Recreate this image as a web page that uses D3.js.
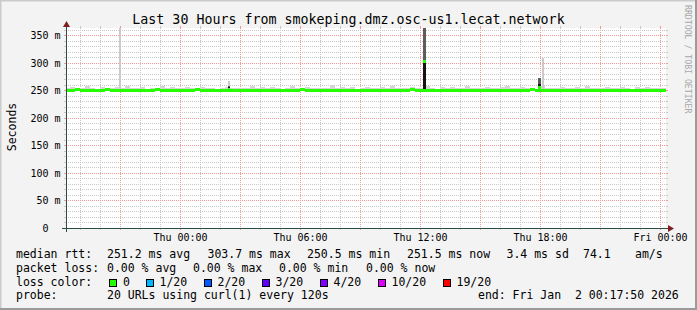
<!DOCTYPE html>
<html>
<head>
<meta charset="utf-8">
<script src="https://cdn.jsdelivr.net/npm/d3@7"></script>
<style>
  body { margin: 0; background: #f3f3f3; }
  svg { display: block; font-family: "DejaVu Sans Mono", monospace; }
  text { white-space: pre; }
</style>
</head>
<body>
<svg id="chart" width="697" height="310"></svg>
<script>

/* DATA */
// median rtt per 15 minute step, starting Wed 18:15 (ms)
const medianMs = [
  251.4, 251.0, 251.8, 251.2, 250.9, 251.6, 251.3, 251.1, 252.0, 251.2,
  251.0, 251.5, 251.3, 250.8, 251.7, 251.2, 251.0, 251.4, 251.9, 251.1,
  251.2, 250.9, 251.3, 251.6, 251.0, 251.2, 251.8, 251.1, 250.7, 251.3,
  251.5, 251.0, 251.2, 251.4, 250.9, 251.1, 251.6, 251.3, 251.0, 251.2,
  251.7, 251.1, 250.8, 251.3, 251.5, 251.0, 251.2, 251.9, 251.1, 250.9,
  251.3, 251.2, 251.0, 251.6, 251.4, 250.8, 251.1, 251.3, 251.0, 251.5,
  251.2, 250.9, 251.4, 251.7, 251.1, 251.0, 251.3, 250.6, 251.2, 251.8,
  251.0, 251.1, 251.4, 251.2, 250.9, 251.3, 251.6, 251.0, 251.2, 251.5,
  251.1, 250.8, 251.3, 251.2, 251.0, 251.7, 251.3, 251.1, 250.9, 251.4,
  251.2, 251.0, 251.5, 251.8, 251.1, 250.9, 251.3, 251.2, 251.6, 251.0,
  251.1, 251.4, 250.8, 251.2, 251.3, 251.0, 251.6, 251.1, 251.2, 250.9,
  251.4, 251.2, 251.0, 251.5, 251.1, 250.8, 251.3, 251.2, 251.6, 251.4,
  251.5
];

// slowest ping per step (top of the smoke, ms)
const smokeMaxMs = [
  254.2, 256.8, 253.9, 255.1, 258.3, 254.0, 253.6, 256.2, 254.8, 253.7,
  255.9, 254.3, 257.6, 253.8, 254.9, 256.4, 253.5, 255.0, 254.1, 258.9,
  253.9, 255.6, 254.2, 253.7, 256.1, 254.5, 253.8, 257.2, 254.0, 255.3,
  253.6, 254.7, 256.9, 253.9, 255.2, 254.1, 253.7, 258.1, 254.4, 255.8,
  253.9, 256.5, 254.2, 253.6, 255.4, 257.3, 254.0, 253.8, 256.0, 254.6,
  255.1, 253.7, 254.3, 259.4, 253.9, 255.7, 254.1, 256.3, 253.6, 254.8,
  257.0, 254.2, 253.9, 255.5, 254.0, 258.6, 253.7, 255.0, 254.4, 256.7,
  253.8, 254.9, 257.8, 254.1, 253.6, 255.9, 254.3, 256.1, 253.9, 254.6,
  258.0, 254.2, 255.3, 253.7, 256.8, 254.0, 253.9, 255.6, 257.4, 254.1,
  253.8, 256.2, 254.5, 255.0, 253.6, 257.9, 254.3, 255.4, 253.9, 256.6,
  254.1, 253.7, 255.8, 254.2, 258.4, 253.9, 255.1, 254.0, 256.9, 253.8,
  254.7, 257.1, 254.2, 253.6, 255.5, 254.4, 256.3, 253.9, 255.0, 254.1,
  254.6
];

// short bursts of slow pings
const spikeStart   = ["2025-12-31 20:57", "2026-01-01 02:25", "2026-01-01 12:08", "2026-01-01 17:55", "2026-01-01 18:07"];
const spikeMinutes = [6, 6, 10, 9, 6];
const spikeMinMs   = [250.6, 250.8, 250.5, 250.7, 250.9];
const spikeCoreMs  = [251.2, 256.0, 303.7, 261.0, 251.3];
const spikeDarkMs  = [251.2, 258.0, 380.0, 273.0, 251.3];
const spikeMaxMs   = [380.0, 267.0, 380.0, 273.0, 309.0];
const spikeMedMs   = [251.2, 252.0, 303.7, 257.0, 251.3];

const yTicksMs = [0, 50, 100, 150, 200, 250, 300, 350];

const rttStats  = ["251.2 ms avg", "303.7 ms max", "250.5 ms min", "251.5 ms now", "3.4 ms sd", "74.1", "am/s"];
const lossStats = ["0.00 % avg", "0.00 % max", "0.00 % min", "0.00 % now"];
const lossLabels = ["0", "1/20", "2/20", "3/20", "4/20", "10/20", "19/20"];
const lossColors = ["#26ff00", "#00b8ff", "#0059ff", "#5e00ff", "#7e00ff", "#dd00ff", "#ff0000"];

const titleText = "Last 30 Hours from smokeping.dmz.osc-us1.lecat.network";
const probeText = "20 URLs using curl(1) every 120s";
const endText   = "end: Fri Jan  2 00:17:50 2026";

/* LAYOUT */
const width = 697, height = 310;
const x0 = 66, x1 = 666, yTop = 28, yBot = 228;
const startTime = new Date(2025, 11, 31, 18, 17, 50);
const endTime   = new Date(2026, 0, 2, 0, 17, 50);
const baseStart = new Date(2025, 11, 31, 18, 15, 0);
const stepMin = 15;
const yMaxMs = 363.6;

const parseTime = d3.timeParse("%Y-%m-%d %H:%M");

/* SCALES */
const xScale = d3.scaleTime()
    .domain([startTime, endTime])
    .range([x0, x1]);

const yScale = d3.scaleLinear()
    .domain([0, yMaxMs])
    .range([yBot, yTop]);

const px = v => Math.round(v) + 0.5;

const svg = d3.select("#chart");

// BACKGROUND + FRAME
svg.append("rect").attr("width", width).attr("height", height).attr("fill", "#f3f3f3");
svg.append("path").attr("d", `M0,${height} V0 H${width}`).attr("fill", "none")
    .attr("stroke", "#cbcbcb").attr("stroke-width", 3);
svg.append("path").attr("d", `M0,${height} H${width} V0`).attr("fill", "none")
    .attr("stroke", "#9b9b9b").attr("stroke-width", 4);

svg.append("rect")
    .attr("x", x0).attr("y", yTop)
    .attr("width", x1 - x0).attr("height", yBot - yTop)
    .attr("fill", "#ffffff");

// GRID -------------------------------------
const grid = svg.append("g").attr("shape-rendering", "crispEdges");

function hLine(v, color) {
    const y = px(yScale(v));
    grid.append("line").attr("x1", x0).attr("x2", x1).attr("y1", y).attr("y2", y)
        .attr("stroke", color).attr("stroke-dasharray", "1,1");
    grid.append("line").attr("x1", x0 - 2).attr("x2", x0).attr("y1", y).attr("y2", y).attr("stroke", color);
    grid.append("line").attr("x1", x1).attr("x2", x1 + 2).attr("y1", y).attr("y2", y).attr("stroke", color);
}

function vLine(t, color) {
    const x = px(xScale(t));
    grid.append("line").attr("x1", x).attr("x2", x).attr("y1", yTop).attr("y2", yBot)
        .attr("stroke", color).attr("stroke-dasharray", "1,1");
    grid.append("line").attr("x1", x).attr("x2", x).attr("y1", yBot).attr("y2", yBot + 2).attr("stroke", color);
    grid.append("line").attr("x1", x).attr("x2", x).attr("y1", yTop - 2).attr("y2", yTop).attr("stroke", color);
}

d3.range(10, yMaxMs, 10).filter(v => v % 50 !== 0).forEach(v => hLine(v, "#c8c8c8"));
d3.timeHour.range(startTime, endTime).filter(t => t.getHours() % 3 !== 0).forEach(t => vLine(t, "#c8c8c8"));
yTicksMs.filter(v => v > 0).forEach(v => hLine(v, "#f29a9a"));
d3.timeHour.range(startTime, endTime).filter(t => t.getHours() % 3 === 0).forEach(t => vLine(t, "#f29a9a"));

// SMOKE + MEDIAN ---------------------------
svg.append("clipPath").attr("id", "canvas-clip")
  .append("rect").attr("x", x0).attr("y", yTop).attr("width", x1 - x0).attr("height", yBot - yTop);

const plot = svg.append("g")
    .attr("clip-path", "url(#canvas-clip)")
    .attr("shape-rendering", "crispEdges");

const steps = medianMs.map((m, i) => ({
    t0: d3.timeMinute.offset(baseStart, i * stepMin),
    t1: d3.timeMinute.offset(baseStart, (i + 1) * stepMin),
    median: m,
    max: smokeMaxMs[i]
}));

const spikes = spikeStart.map((s, i) => ({
    t0: parseTime(s),
    t1: d3.timeMinute.offset(parseTime(s), spikeMinutes[i]),
    min: spikeMinMs[i], core: spikeCoreMs[i], dark: spikeDarkMs[i],
    max: spikeMaxMs[i], median: spikeMedMs[i]
}));

const band = (sel, lo, hi, color) => sel
    .attr("x", d => xScale(d.t0))
    .attr("width", d => xScale(d.t1) - xScale(d.t0))
    .attr("y", d => yScale(hi(d)))
    .attr("height", d => Math.max(0, yScale(lo(d)) - yScale(hi(d))))
    .attr("fill", color);

plot.selectAll("rect.smoke")
    .data(steps)
    .join("rect")
    .attr("class", "smoke")
    .call(band, d => d.median, d => d.max, "#d4d4d4");

plot.selectAll("rect.spike-light")
    .data(spikes)
    .join("rect")
    .attr("class", "spike-light")
    .call(band, d => d.min, d => d.max, "#cacaca");

plot.selectAll("rect.spike-dark")
    .data(spikes.filter(d => d.dark > d.min + 1))
    .join("rect")
    .attr("class", "spike-dark")
    .call(band, d => d.min, d => d.dark, "#5c5c5c");

plot.selectAll("rect.spike-core")
    .data(spikes.filter(d => d.core > d.min + 1))
    .join("rect")
    .attr("class", "spike-core")
    .call(band, d => d.min, d => d.core, "#141414");

// median drawn as a 3px band per step, coloured by loss (all 0 here)
plot.selectAll("rect.median")
    .data(steps.concat(spikes))
    .join("rect")
    .attr("class", "median")
    .attr("x", d => xScale(d.t0))
    .attr("width", d => xScale(d.t1) - xScale(d.t0))
    .attr("y", d => yScale(d.median) - 1)
    .attr("height", 3)
    .attr("fill", lossColors[0]);

// AXIS -------------------------------------
const axisColor = "#2c4d43", arrowColor = "#7f1f1f";

svg.append("line")
    .attr("x1", x0 - 4).attr("x2", x1 + 4)
    .attr("y1", yBot + 0.5).attr("y2", yBot + 0.5)
    .attr("stroke", axisColor);
svg.append("line")
    .attr("x1", x0 + 0.5).attr("x2", x0 + 0.5)
    .attr("y1", yBot + 4).attr("y2", yTop - 4)
    .attr("stroke", axisColor);

svg.append("path")
    .attr("d", `M${x1 + 2},${yBot - 3} L${x1 + 8},${yBot + 0.5} L${x1 + 2},${yBot + 4} Z`)
    .attr("fill", arrowColor);
svg.append("path")
    .attr("d", `M${x0 - 3},${yTop - 1} L${x0 + 0.5},${yTop - 7} L${x0 + 4},${yTop - 1} Z`)
    .attr("fill", arrowColor);

// TICK LABELS
svg.selectAll("text.y-label")
    .data(yTicksMs)
    .join("text")
    .attr("class", "y-label")
    .attr("x", 60.5)
    .attr("y", d => px(yScale(d)) + 3.5)
    .attr("text-anchor", "end")
    .attr("font-size", 10)
    .text(d => d === 0 ? "0  " : `${d} m`);

svg.selectAll("text.x-label")
    .data(d3.timeHour.range(startTime, endTime).filter(t => t.getHours() % 6 === 0))
    .join("text")
    .attr("class", "x-label")
    .attr("x", d => px(xScale(d)))
    .attr("y", 241)
    .attr("text-anchor", "middle")
    .attr("font-size", 10)
    .text(d3.timeFormat("%a %H:%M"));

// TITLES
svg.append("text")
    .attr("x", width / 2).attr("y", 24)
    .attr("text-anchor", "middle")
    .attr("font-size", 13.3)
    .text(titleText);

svg.append("text")
    .attr("transform", "translate(15.5,127) rotate(-90)")
    .attr("text-anchor", "middle")
    .attr("font-size", 11.5)
    .text("Seconds");

svg.append("text")
    .attr("transform", "translate(684.5,5) rotate(90)")
    .attr("font-size", 8.2)
    .attr("fill", "#a8a8a8")
    .text("RRDTOOL / TOBI OETIKER");

// LEGEND -----------------------------------
const legend = svg.append("g").attr("font-size", 11.5);
const rowY = [258, 271.8, 285.6, 299.4];
const rttCols = [107, 207.5, 307, 407, 506.5, 583, 635];
const lossCols = [107, 193, 279, 366];
const boxCols = [109, 145.5, 203.5, 261.5, 319.5, 377.5, 442.5];

legend.append("text").attr("x", 16).attr("y", rowY[0]).text("median rtt:");
legend.selectAll("text.rtt")
    .data(rttStats)
    .join("text")
    .attr("class", "rtt")
    .attr("x", (d, i) => rttCols[i])
    .attr("y", rowY[0])
    .text(d => d);

legend.append("text").attr("x", 16).attr("y", rowY[1]).text("packet loss:");
legend.selectAll("text.loss")
    .data(lossStats)
    .join("text")
    .attr("class", "loss")
    .attr("x", (d, i) => lossCols[i])
    .attr("y", rowY[1])
    .text(d => d);

legend.append("text").attr("x", 16).attr("y", rowY[2]).text("loss color:");
legend.selectAll("rect.loss-box")
    .data(lossColors)
    .join("rect")
    .attr("class", "loss-box")
    .attr("x", (d, i) => boxCols[i] + 0.5)
    .attr("y", 279.5)
    .attr("width", 7).attr("height", 7)
    .attr("fill", d => d)
    .attr("stroke", "#000")
    .attr("shape-rendering", "crispEdges");
legend.selectAll("text.loss-label")
    .data(lossLabels)
    .join("text")
    .attr("class", "loss-label")
    .attr("x", (d, i) => boxCols[i] + 14)
    .attr("y", rowY[2])
    .text(d => d);

legend.append("text").attr("x", 16).attr("y", rowY[3]).text("probe:");
legend.append("text").attr("x", 107).attr("y", rowY[3]).text(probeText);
legend.append("text").attr("x", 478).attr("y", rowY[3]).text(endText);

</script>
</body>
</html>
